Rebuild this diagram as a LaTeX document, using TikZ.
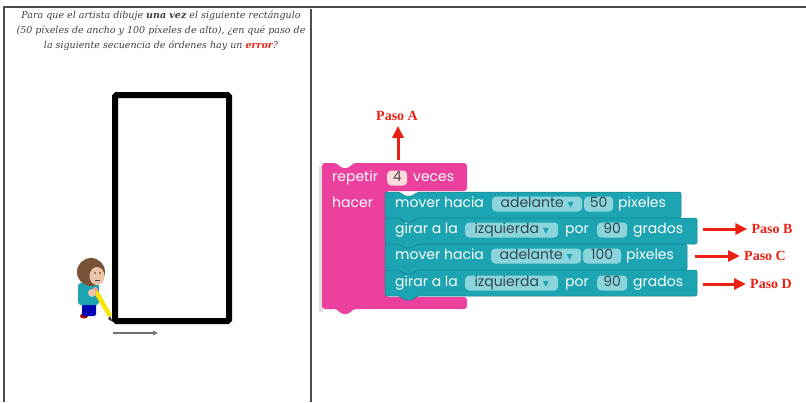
\documentclass[tikz,border=0pt]{standalone}
\usepackage{fontspec}
\usetikzlibrary{arrows.meta}
\newfontfamily\bloquefont{Poppins}
\newfontfamily\pasofont{Liberation Serif}
\newfontfamily\titulofont{DejaVu Serif}
\newfontfamily\simbfont{DejaVu Sans}
\definecolor{rosa}{RGB}{236,64,158}
\definecolor{turquesa}{RGB}{28,164,178}
\definecolor{turquesaosc}{RGB}{18,128,140}
\definecolor{turquesaclaro}{RGB}{140,212,220}
\definecolor{gristexto}{RGB}{52,72,80}
\definecolor{rojo}{RGB}{235,32,20}
\definecolor{marron}{RGB}{120,82,55}
\definecolor{piel}{RGB}{236,196,170}
\newcommand{\tri}{{\simbfont\fontsize{8}{8}\selectfont\textcolor{turquesa}{▼}}}
\newcommand{\fs}{14}

\begin{document}
\begin{tikzpicture}[x=1pt, y=-1pt,
    marco/.style={draw=black!70, line width=1.3pt},
    txt/.style={anchor=west, inner sep=0pt, text=white, text height=10pt, text depth=3pt,
        font=\bloquefont\fontsize{\fs}{\fs}\selectfont},
    fld/.style={anchor=west, fill=turquesaclaro, rounded corners=4pt, inner xsep=2pt, inner ysep=1pt,
        text=gristexto, text height=10pt, text depth=3pt, font=\bloquefont\fontsize{\fs}{\fs}\selectfont},
    paso/.style={text=rojo, inner sep=2pt, font=\pasofont\bfseries\fontsize{14}{14}\selectfont},
    flechaRoja/.style={draw=rojo, line width=3pt, -{Triangle[length=12pt,width=11pt]}}]
    \useasboundingbox (0,0) rectangle (806,402);

    % Frame
    \draw[marco] (4,402) -- (4,7) -- (806,7);
    \draw[marco] (311,9) -- (311,402);

    % Question
    \node[align=center, text=black!75, font=\titulofont\itshape\fontsize{9.5}{15}\selectfont] (enunciado) at (161,31)
        {Para que el artista dibuje \textbf{una vez} el siguiente rectángulo\\
         (50 píxeles de ancho y 100 píxeles de alto), ¿en qué paso de\\
         la siguiente secuencia de órdenes hay un \textcolor{rojo}{\textbf{error}}?};

    % Rectangle and direction
    \draw[line width=6pt, rounded corners=1.5pt] (115,95) rectangle (229,321);
    \draw[black!55, line width=1.5pt, -{Triangle[length=5pt,width=4.5pt]}] (113,333) -- (158,333);

    % Artist
    \fill[red!70!black] (84,316) ellipse (4 and 2.5);
    \fill[blue!70!black, rounded corners=2pt] (82,300) rectangle (96,316);
    \fill[turquesa, rounded corners=3pt] (78,283) rectangle (99,305);
    \draw[line width=4.5pt, yellow!85!orange] (95,290) -- (110,316);
    \draw[line width=4.5pt, pink!80!red] (94,288) -- (96,291);
    \fill[black!80] (110,316) -- (113,322) -- (108,319) -- cycle;
    \fill[piel] (92,293) circle (4);
    \fill[marron] (91,272) circle (14);
    \fill[piel] (97,276) ellipse (7.5 and 9);
    \fill[black!70] (95,273) circle (1) (100,273) circle (1);
    \draw[black!70, line width=0.6pt] (95,280) -- (100,280);

    % Pink repeat block
    \fill[black!12] (319,166) rectangle (323,312);
    \fill[rosa, rounded corners=3pt] (322,163) -- (337,163) -- (341,168) -- (349,168) -- (353,163)
        -- (467,163) -- (467,191) -- (386,191) -- (386,297) -- (467,297) -- (467,309)
        -- (353,309) -- (349,314) -- (341,314) -- (337,309) -- (322,309) -- cycle;
    \node[txt] (repetir) at (332,178) {repetir};
    \node[fld, minimum width=20pt, fill=pink!55!white, text=black!70] (veces-n) at (387,178) {4};
    \node[txt] (veces) at (413,178) {veces};
    \node[txt] (hacer) at (332,204) {hacer};

    % Teal rows
    \foreach \y/\xr in {192/681, 218/697, 244/687, 270/697} {
        \filldraw[fill=turquesa, draw=turquesaosc, line width=0.5pt, rounded corners=2pt]
            (385,\y) -- (400,\y) -- (404,\y+4) -- (413,\y+4) -- (417,\y) -- (\xr,\y)
            -- (\xr,\y+26) -- (417,\y+26) -- (413,\y+30) -- (404,\y+30) -- (400,\y+26) -- (385,\y+26) -- cycle;
    }

    % First row
    \node[txt] (mover-1) at (395,204) {mover hacia};
    \node[fld, minimum width=90pt] (dir-1) at (492,204) {adelante \tri};
    \node[fld, minimum width=29pt] (px-1) at (584,204) {50};
    \node[txt] (unidad-1) at (618,204) {pixeles};
    % Second row
    \node[txt] (girar-2) at (395,230) {girar a la};
    \node[fld, minimum width=93pt] (dir-2) at (465,230) {izquierda \tri};
    \node[txt] (por-2) at (565,230) {por};
    \node[fld, minimum width=30pt] (gr-2) at (597,230) {90};
    \node[txt] (unidad-2) at (633,230) {grados};
    % Third row
    \node[txt] (mover-3) at (395,256) {mover hacia};
    \node[fld, minimum width=90pt] (dir-3) at (491,256) {adelante \tri};
    \node[fld, minimum width=38pt] (px-3) at (583,256) {100};
    \node[txt] (unidad-3) at (626,256) {pixeles};
    % Fourth row
    \node[txt] (girar-4) at (395,283) {girar a la};
    \node[fld, minimum width=93pt] (dir-4) at (465,283) {izquierda \tri};
    \node[txt] (por-4) at (565,283) {por};
    \node[fld, minimum width=30pt] (gr-4) at (597,283) {90};
    \node[txt] (unidad-4) at (633,283) {grados};

    % Step labels
    \node[paso] (pasoA) at (397,116) {Paso A};
    \node[paso] (pasoB) at (772,229) {Paso B};
    \node[paso] (pasoC) at (765,256) {Paso C};
    \node[paso] (pasoD) at (771,284) {Paso D};
    \coordinate (origenA) at (398,160);
    \coordinate (origenB) at (703,229);
    \coordinate (origenC) at (695,256);
    \coordinate (origenD) at (703,284);
    \draw[flechaRoja, shorten >=3pt] (origenA) -- (pasoA.south -| origenA);
    \draw[flechaRoja, shorten >=2pt] (origenB) -- (pasoB.west);
    \draw[flechaRoja, shorten >=2pt] (origenC) -- (pasoC.west);
    \draw[flechaRoja, shorten >=2pt] (origenD) -- (pasoD.west);
\end{tikzpicture}
\end{document}
